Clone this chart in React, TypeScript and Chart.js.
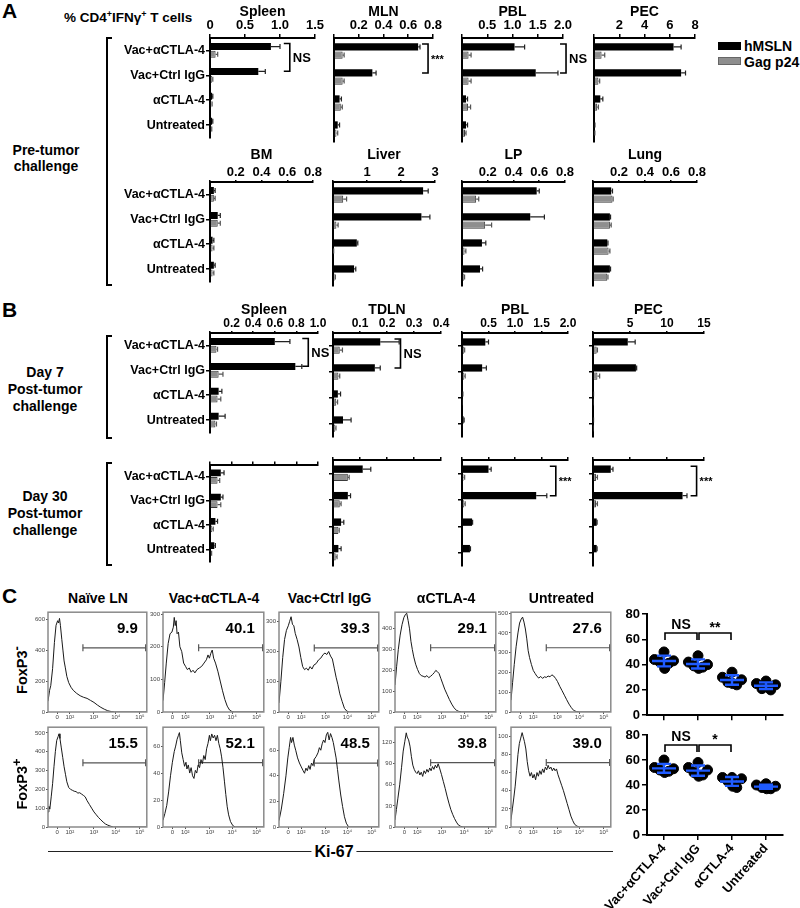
import React, { useEffect, useRef } from 'react';
import { Chart, registerables } from 'chart.js';

Chart.register(...registerables);

const FONT = "'Liberation Sans', Arial, Helvetica, sans-serif";
Chart.defaults.font.family = FONT;
Chart.defaults.color = '#000';

// ---------------- categories / series ----------------
const CATEGORIES = ['Vac+αCTLA-4', 'Vac+Ctrl IgG', 'αCTLA-4', 'Untreated'];
const SERIES = ['hMSLN', 'Gag p24'];

// ---------------- Panel A: pre-tumor challenge ----------------
const A_SPLEEN_HMSLN = [0.87, 0.69, 0.03, 0.03];
const A_SPLEEN_HMSLN_ERR = [0.13, 0.1, 0.01, 0.01];
const A_SPLEEN_GAG = [0.08, 0.03, 0.02, 0.02];
const A_SPLEEN_GAG_ERR = [0.03, 0.01, 0.01, 0.005];

const A_MLN_HMSLN = [0.68, 0.31, 0.045, 0.03];
const A_MLN_HMSLN_ERR = [0.015, 0.03, 0.015, 0.015];
const A_MLN_GAG = [0.07, 0.07, 0.055, 0.02];
const A_MLN_GAG_ERR = [0.012, 0.012, 0.012, 0.01];

const A_PBL_HMSLN = [1.04, 1.46, 0.08, 0.08];
const A_PBL_HMSLN_ERR = [0.2, 0.44, 0.03, 0.03];
const A_PBL_GAG = [0.13, 0.13, 0.12, 0.06];
const A_PBL_GAG_ERR = [0.05, 0.05, 0.05, 0.02];

const A_PEC_HMSLN = [6.3, 6.9, 0.5, 0.05];
const A_PEC_HMSLN_ERR = [0.6, 0.35, 0.2, 0.02];
const A_PEC_GAG = [0.6, 0.35, 0.25, 0.05];
const A_PEC_GAG_ERR = [0.25, 0.1, 0.1, 0.02];

const A_BM_HMSLN = [0.03, 0.06, 0.02, 0.03];
const A_BM_HMSLN_ERR = [0.01, 0.02, 0.01, 0.01];
const A_BM_GAG = [0.03, 0.06, 0.02, 0.02];
const A_BM_GAG_ERR = [0.01, 0.02, 0.01, 0.01];

const A_LIVER_HMSLN = [2.65, 2.6, 0.7, 0.62];
const A_LIVER_HMSLN_ERR = [0.15, 0.25, 0.03, 0.05];
const A_LIVER_GAG = [0.3, 0.1, 0.01, 0.05];
const A_LIVER_GAG_ERR = [0.1, 0.05, 0.01, 0.02];

const A_LP_HMSLN = [0.58, 0.53, 0.155, 0.14];
const A_LP_HMSLN_ERR = [0.02, 0.11, 0.03, 0.02];
const A_LP_GAG = [0.11, 0.18, 0.02, 0.015];
const A_LP_GAG_ERR = [0.02, 0.05, 0.01, 0.005];

const A_LUNG_HMSLN = [0.14, 0.13, 0.11, 0.13];
const A_LUNG_HMSLN_ERR = [0.01, 0.005, 0.005, 0.005];
const A_LUNG_GAG = [0.15, 0.13, 0.12, 0.11];
const A_LUNG_GAG_ERR = [0.005, 0.01, 0.01, 0.005];

// ---------------- Panel B: day 7 post-tumor ----------------
const B7_SPLEEN_HMSLN = [0.6, 0.79, 0.08, 0.08];
const B7_SPLEEN_HMSLN_ERR = [0.14, 0.06, 0.03, 0.06];
const B7_SPLEEN_GAG = [0.06, 0.08, 0.07, 0.05];
const B7_SPLEEN_GAG_ERR = [0.01, 0.04, 0.03, 0.01];

const B7_TDLN_HMSLN = [0.175, 0.155, 0.018, 0.037];
const B7_TDLN_HMSLN_ERR = [0.07, 0.02, 0.01, 0.03];
const B7_TDLN_GAG = [0.025, 0.02, 0.012, 0.008];
const B7_TDLN_GAG_ERR = [0.01, 0.005, 0.005, 0.003];

const B7_PBL_HMSLN = [0.44, 0.38, 0.01, 0.03];
const B7_PBL_HMSLN_ERR = [0.06, 0.08, 0.005, 0.01];
const B7_PBL_GAG = [0.04, 0.04, 0.005, 0.01];
const B7_PBL_GAG_ERR = [0.01, 0.02, 0, 0];

const B7_PEC_HMSLN = [4.7, 5.8, 0.05, 0.05];
const B7_PEC_HMSLN_ERR = [1.0, 0.1, 0.02, 0.02];
const B7_PEC_GAG = [0.5, 0.6, 0.02, 0.02];
const B7_PEC_GAG_ERR = [0.1, 0.3, 0, 0];

// ---------------- Panel B: day 30 post-tumor ----------------
const B30_SPLEEN_HMSLN = [0.1, 0.1, 0.05, 0.04];
const B30_SPLEEN_HMSLN_ERR = [0.03, 0.02, 0.02, 0.01];
const B30_SPLEEN_GAG = [0.07, 0.07, 0.02, 0.01];
const B30_SPLEEN_GAG_ERR = [0.02, 0.03, 0.01, 0.005];

const B30_TDLN_HMSLN = [0.11, 0.055, 0.03, 0.02];
const B30_TDLN_HMSLN_ERR = [0.03, 0.01, 0.01, 0.01];
const B30_TDLN_GAG = [0.055, 0.025, 0.02, 0.01];
const B30_TDLN_GAG_ERR = [0.005, 0.005, 0.003, 0.005];

const B30_PBL_HMSLN = [0.5, 1.4, 0.19, 0.15];
const B30_PBL_HMSLN_ERR = [0.05, 0.2, 0.01, 0.01];
const B30_PBL_GAG = [0.03, 0.04, 0.01, 0.01];
const B30_PBL_GAG_ERR = [0.02, 0.02, 0, 0];

const B30_PEC_HMSLN = [2.4, 12.1, 0.5, 0.5];
const B30_PEC_HMSLN_ERR = [0.3, 0.6, 0.05, 0.05];
const B30_PEC_GAG = [0.4, 0.4, 0.1, 0.1];
const B30_PEC_GAG_ERR = [0.2, 0.2, 0, 0];

// ---------------- tick values / labels ----------------
const TICKS_1_5 = [0, 0.5, 1, 1.5];
const TICKS_1_5_LBL = ['0', '0.5', '1.0', '1.5'];
const TICKS_0_8 = [0, 0.2, 0.4, 0.6, 0.8];
const TICKS_0_8_LBL = ['', '0.2', '0.4', '0.6', '0.8'];
const TICKS_2 = [0, 0.5, 1, 1.5, 2];
const TICKS_2_LBL = ['', '0.5', '1.0', '1.5', '2.0'];
const TICKS_8 = [0, 2, 4, 6, 8];
const TICKS_8_LBL = ['', '2', '4', '6', '8'];
const TICKS_3 = [0, 1, 2, 3];
const TICKS_3_LBL = ['', '1', '2', '3'];
const TICKS_1 = [0, 0.2, 0.4, 0.6, 0.8, 1.0];
const TICKS_1_LBL = ['', '0.2', '0.4', '0.6', '0.8', '1.0'];
const TICKS_0_4 = [0, 0.1, 0.2, 0.3, 0.4];
const TICKS_0_4_LBL = ['', '0.1', '0.2', '0.3', '0.4'];
const TICKS_15 = [0, 5, 10, 15];
const TICKS_15_LBL = ['', '5', '10', '15'];

// ---------------- Panel C: Ki-67 histograms (x in display decades, y = count) ----------------
const HIST_TITLES = ['Naïve LN', 'Vac+αCTLA-4', 'Vac+Ctrl IgG', 'αCTLA-4', 'Untreated'];
const HIST_X_TICKS = [0, 0.55, 1.6, 2.55, 3.6];
const HIST_X_LABELS = ['0', '10²', '10³', '10⁴', '10⁵'];
const HIST_PCT_NEG = ['9.9', '40.1', '39.3', '29.1', '27.6'];
const HIST_PCT_POS = ['15.5', '52.1', '48.5', '39.8', '39.0'];
const HIST_YMAX_NEG = [645, 306, 330, 480, 505];
const HIST_YSTEP_NEG = [200, 100, 100, 100, 100];
const HIST_YMAX_POS = [530, 74, 78, 142, 110];
const HIST_YSTEP_POS = [100, 20, 20, 30, 20];
const HIST_GATE_NEG = [415, 197, 212, 309, 325];
const HIST_GATE_POS = [341, 47.7, 50, 91.5, 71];
const GATE_FROM = 1.12;
const GATE_TO = 3.85;

const HIST_NEG_NAIVE = [[-0.4, 70], [-0.33, 140], [-0.28, 170], [-0.2, 280], [-0.12, 450], [-0.05, 560], [0.02, 590], [0.06, 575], [0.1, 605], [0.14, 560], [0.2, 470], [0.25, 400], [0.3, 330], [0.35, 290], [0.42, 230], [0.5, 190], [0.6, 160], [0.7, 140], [0.85, 120], [1.0, 105], [1.15, 95], [1.3, 88], [1.45, 75], [1.6, 62], [1.75, 45], [1.9, 30], [2.05, 18], [2.2, 8], [2.35, 3], [2.5, 0], [3.9, 0]];
const HIST_NEG_VAC_ACTLA4 = [[-0.4, 35], [-0.33, 90], [-0.26, 150], [-0.18, 210], [-0.1, 240], [-0.02, 245], [0.04, 260], [0.08, 290], [0.12, 265], [0.16, 280], [0.2, 240], [0.26, 245], [0.32, 200], [0.4, 185], [0.48, 150], [0.56, 140], [0.64, 130], [0.72, 135], [0.8, 122], [0.88, 128], [0.96, 120], [1.05, 130], [1.15, 135], [1.25, 140], [1.35, 150], [1.45, 160], [1.52, 175], [1.58, 165], [1.64, 180], [1.7, 190], [1.76, 165], [1.84, 150], [1.94, 125], [2.04, 95], [2.14, 65], [2.24, 38], [2.34, 18], [2.44, 6], [2.55, 1], [2.65, 0], [3.9, 0]];
const HIST_NEG_VAC_IGG = [[-0.4, 30], [-0.32, 100], [-0.24, 180], [-0.16, 240], [-0.08, 270], [0.0, 285], [0.06, 300], [0.12, 315], [0.18, 290], [0.24, 285], [0.3, 260], [0.38, 240], [0.46, 215], [0.54, 180], [0.62, 150], [0.7, 140], [0.78, 145], [0.86, 138], [0.94, 150], [1.02, 142], [1.1, 155], [1.2, 160], [1.3, 172], [1.4, 178], [1.5, 190], [1.58, 195], [1.66, 190], [1.74, 200], [1.82, 185], [1.9, 175], [1.98, 145], [2.06, 115], [2.14, 90], [2.22, 60], [2.32, 35], [2.42, 12], [2.52, 3], [2.62, 0], [3.9, 0]];
const HIST_NEG_ACTLA4 = [[-0.4, 130], [-0.33, 220], [-0.26, 300], [-0.18, 370], [-0.1, 420], [-0.02, 455], [0.05, 470], [0.1, 475], [0.16, 440], [0.22, 400], [0.28, 340], [0.34, 300], [0.4, 265], [0.48, 230], [0.56, 205], [0.64, 185], [0.72, 175], [0.8, 172], [0.88, 168], [0.96, 175], [1.04, 165], [1.12, 172], [1.2, 180], [1.28, 190], [1.34, 200], [1.4, 195], [1.48, 185], [1.56, 160], [1.64, 135], [1.72, 110], [1.82, 85], [1.92, 60], [2.02, 38], [2.12, 20], [2.22, 8], [2.32, 3], [2.45, 0], [3.9, 0]];
const HIST_NEG_UNTREATED = [[-0.4, 60], [-0.33, 150], [-0.26, 240], [-0.18, 330], [-0.1, 400], [-0.03, 450], [0.04, 470], [0.1, 480], [0.16, 455], [0.22, 420], [0.28, 370], [0.34, 310], [0.4, 275], [0.48, 240], [0.56, 210], [0.64, 195], [0.72, 180], [0.8, 172], [0.88, 180], [0.96, 170], [1.04, 178], [1.12, 175], [1.2, 182], [1.28, 178], [1.36, 188], [1.44, 182], [1.52, 170], [1.6, 155], [1.7, 130], [1.8, 108], [1.9, 85], [2.0, 62], [2.1, 40], [2.2, 22], [2.3, 8], [2.42, 2], [2.55, 0], [3.9, 0]];

const HIST_POS_NAIVE = [[-0.4, 80], [-0.36, 110], [-0.32, 95], [-0.26, 160], [-0.2, 230], [-0.14, 320], [-0.08, 400], [-0.02, 460], [0.04, 480], [0.08, 495], [0.12, 470], [0.18, 420], [0.24, 370], [0.3, 320], [0.36, 280], [0.42, 240], [0.5, 210], [0.58, 200], [0.66, 195], [0.74, 190], [0.82, 188], [0.9, 180], [0.98, 182], [1.06, 175], [1.14, 168], [1.22, 160], [1.3, 140], [1.4, 120], [1.5, 100], [1.6, 80], [1.7, 65], [1.8, 50], [1.9, 38], [2.0, 26], [2.1, 16], [2.2, 10], [2.3, 5], [2.45, 0], [3.9, 0]];
const HIST_POS_VAC_ACTLA4 = [[-0.4, 5], [-0.32, 10], [-0.24, 16], [-0.16, 26], [-0.08, 38], [0.0, 48], [0.08, 56], [0.14, 60], [0.2, 65], [0.26, 68], [0.3, 70], [0.34, 64], [0.4, 55], [0.46, 50], [0.52, 45], [0.58, 48], [0.62, 43], [0.68, 46], [0.74, 40], [0.8, 44], [0.86, 38], [0.92, 36], [0.98, 42], [1.04, 40], [1.1, 46], [1.16, 44], [1.22, 50], [1.28, 47], [1.34, 53], [1.4, 50], [1.46, 58], [1.52, 62], [1.58, 68], [1.62, 64], [1.68, 69], [1.74, 66], [1.8, 68], [1.86, 64], [1.92, 68], [1.98, 62], [2.04, 58], [2.1, 52], [2.16, 44], [2.22, 34], [2.28, 24], [2.34, 15], [2.4, 9], [2.48, 4], [2.58, 1], [2.68, 0], [3.9, 0]];
const HIST_POS_VAC_IGG = [[-0.4, 5], [-0.3, 14], [-0.2, 26], [-0.1, 40], [-0.02, 54], [0.04, 62], [0.1, 70], [0.14, 66], [0.2, 70], [0.26, 64], [0.32, 60], [0.4, 54], [0.48, 50], [0.56, 47], [0.64, 44], [0.7, 42], [0.76, 46], [0.82, 44], [0.88, 48], [0.94, 45], [1.0, 50], [1.06, 48], [1.12, 53], [1.2, 55], [1.28, 58], [1.34, 62], [1.4, 60], [1.46, 65], [1.52, 68], [1.58, 66], [1.64, 72], [1.7, 74], [1.76, 68], [1.82, 73], [1.88, 70], [1.94, 66], [2.0, 60], [2.06, 54], [2.12, 45], [2.18, 36], [2.26, 25], [2.34, 16], [2.42, 8], [2.5, 3], [2.6, 0], [3.9, 0]];
const HIST_POS_ACTLA4 = [[-0.4, 10], [-0.34, 25], [-0.28, 40], [-0.2, 60], [-0.12, 85], [-0.05, 108], [0.02, 122], [0.08, 134], [0.12, 128], [0.18, 124], [0.24, 115], [0.3, 100], [0.36, 88], [0.42, 82], [0.48, 78], [0.54, 76], [0.6, 80], [0.66, 74], [0.72, 78], [0.78, 72], [0.84, 80], [0.9, 76], [0.96, 82], [1.02, 78], [1.08, 84], [1.14, 80], [1.2, 86], [1.26, 82], [1.32, 88], [1.38, 84], [1.44, 90], [1.5, 84], [1.58, 75], [1.66, 65], [1.74, 55], [1.82, 44], [1.9, 34], [1.98, 25], [2.06, 18], [2.14, 12], [2.22, 7], [2.3, 3], [2.4, 1], [2.5, 0], [3.9, 0]];
const HIST_POS_UNTREATED = [[-0.4, 8], [-0.34, 20], [-0.28, 32], [-0.22, 45], [-0.16, 62], [-0.1, 80], [-0.04, 92], [0.02, 98], [0.08, 104], [0.12, 100], [0.18, 94], [0.24, 86], [0.3, 72], [0.36, 62], [0.42, 56], [0.48, 60], [0.54, 54], [0.6, 58], [0.66, 52], [0.72, 60], [0.78, 56], [0.84, 62], [0.9, 58], [0.96, 64], [1.02, 60], [1.08, 66], [1.14, 63], [1.2, 68], [1.26, 64], [1.32, 66], [1.38, 62], [1.44, 65], [1.5, 62], [1.56, 64], [1.62, 58], [1.7, 52], [1.78, 46], [1.86, 40], [1.94, 33], [2.02, 26], [2.1, 19], [2.18, 12], [2.26, 7], [2.34, 3], [2.44, 1], [2.54, 0], [3.9, 0]];

// ---------------- Panel C: % Ki-67+ scatter ----------------
const SC_NEG_VAC_ACTLA4 = [50, 44, 43, 42, 41, 37];
const SC_NEG_VAC_IGG = [47, 42, 40, 39, 38, 37];
const SC_NEG_ACTLA4 = [34, 30, 28, 26, 24, 25];
const SC_NEG_UNTREATED = [27, 25, 24, 21, 20, 23];
const SC_POS_VAC_ACTLA4 = [60, 54, 53, 52, 51, 50];
const SC_POS_VAC_IGG = [58, 54, 52, 50, 48, 47];
const SC_POS_ACTLA4 = [46, 46, 45, 43, 38, 39];
const SC_POS_UNTREATED = [41, 40, 39, 38, 37, 37];
const SC_Y_TICKS = [0, 20, 40, 60, 80];
const JITTER = [0, -0.28, 0.28, -0.12, 0.14, 0.02];

// ---------------- layout ----------------
const ROWS: any = {
  A1: { axisY: 38, xH: 34, catH: 104, tickLen: 4, tickPad: 1, tickSize: 13, labels: true },
  A2: { axisY: 182, xH: 35, catH: 104, tickLen: 2, tickPad: 0, tickSize: 13, labels: true },
  B7: { axisY: 333, xH: 31, catH: 104, tickLen: 2, tickPad: 0, tickSize: 12, labels: true },
  B30: { axisY: 460, xH: 4, catH: 106, tickLen: 3, tickPad: 0, tickSize: 12, labels: false },
};

const BAR_SPECS: any[] = [
  { row: 'A1', col: 0, axisX: 210, axisLen: 105, title: 'Spleen', hm: A_SPLEEN_HMSLN, hmErr: A_SPLEEN_HMSLN_ERR, gag: A_SPLEEN_GAG, gagErr: A_SPLEEN_GAG_ERR, max: 1.5, ticks: TICKS_1_5, tickLabels: TICKS_1_5_LBL, sig: [{ a: 0, b: 1, at: 1.14, text: 'NS' }] },
  { row: 'A1', col: 1, axisX: 334, axisLen: 99, title: 'MLN', hm: A_MLN_HMSLN, hmErr: A_MLN_HMSLN_ERR, gag: A_MLN_GAG, gagErr: A_MLN_GAG_ERR, max: 0.8, ticks: TICKS_0_8, tickLabels: TICKS_0_8_LBL, sig: [{ a: 0, b: 1, at: 0.76, text: '***' }] },
  { row: 'A1', col: 2, axisX: 462, axisLen: 101, title: 'PBL', hm: A_PBL_HMSLN, hmErr: A_PBL_HMSLN_ERR, gag: A_PBL_GAG, gagErr: A_PBL_GAG_ERR, max: 2, ticks: TICKS_2, tickLabels: TICKS_2_LBL, sig: [{ a: 0, b: 1, at: 2.06, text: 'NS' }] },
  { row: 'A1', col: 3, axisX: 594, axisLen: 101, title: 'PEC', hm: A_PEC_HMSLN, hmErr: A_PEC_HMSLN_ERR, gag: A_PEC_GAG, gagErr: A_PEC_GAG_ERR, max: 8, ticks: TICKS_8, tickLabels: TICKS_8_LBL },
  { row: 'A2', col: 0, axisX: 210, axisLen: 103, title: 'BM', hm: A_BM_HMSLN, hmErr: A_BM_HMSLN_ERR, gag: A_BM_GAG, gagErr: A_BM_GAG_ERR, max: 0.8, ticks: TICKS_0_8, tickLabels: TICKS_0_8_LBL },
  { row: 'A2', col: 1, axisX: 333, axisLen: 102, title: 'Liver', hm: A_LIVER_HMSLN, hmErr: A_LIVER_HMSLN_ERR, gag: A_LIVER_GAG, gagErr: A_LIVER_GAG_ERR, max: 3, ticks: TICKS_3, tickLabels: TICKS_3_LBL },
  { row: 'A2', col: 2, axisX: 462, axisLen: 103, title: 'LP', hm: A_LP_HMSLN, hmErr: A_LP_HMSLN_ERR, gag: A_LP_GAG, gagErr: A_LP_GAG_ERR, max: 0.8, ticks: TICKS_0_8, tickLabels: TICKS_0_8_LBL },
  { row: 'A2', col: 3, axisX: 593, axisLen: 104, title: 'Lung', hm: A_LUNG_HMSLN, hmErr: A_LUNG_HMSLN_ERR, gag: A_LUNG_GAG, gagErr: A_LUNG_GAG_ERR, max: 0.8, ticks: TICKS_0_8, tickLabels: TICKS_0_8_LBL },
  { row: 'B7', col: 0, axisX: 210, axisLen: 108, title: 'Spleen', hm: B7_SPLEEN_HMSLN, hmErr: B7_SPLEEN_HMSLN_ERR, gag: B7_SPLEEN_GAG, gagErr: B7_SPLEEN_GAG_ERR, max: 1, ticks: TICKS_1, tickLabels: TICKS_1_LBL, sig: [{ a: 0, b: 1, at: 0.91, text: 'NS' }] },
  { row: 'B7', col: 1, axisX: 333, axisLen: 108, title: 'TDLN', hm: B7_TDLN_HMSLN, hmErr: B7_TDLN_HMSLN_ERR, gag: B7_TDLN_GAG, gagErr: B7_TDLN_GAG_ERR, max: 0.4, ticks: TICKS_0_4, tickLabels: TICKS_0_4_LBL, sig: [{ a: 0, b: 1, at: 0.25, text: 'NS' }] },
  { row: 'B7', col: 2, axisX: 462, axisLen: 106, title: 'PBL', hm: B7_PBL_HMSLN, hmErr: B7_PBL_HMSLN_ERR, gag: B7_PBL_GAG, gagErr: B7_PBL_GAG_ERR, max: 2, ticks: TICKS_2, tickLabels: TICKS_2_LBL },
  { row: 'B7', col: 3, axisX: 593, axisLen: 111, title: 'PEC', hm: B7_PEC_HMSLN, hmErr: B7_PEC_HMSLN_ERR, gag: B7_PEC_GAG, gagErr: B7_PEC_GAG_ERR, max: 15, ticks: TICKS_15, tickLabels: TICKS_15_LBL },
  { row: 'B30', col: 0, axisX: 210, axisLen: 108, hm: B30_SPLEEN_HMSLN, hmErr: B30_SPLEEN_HMSLN_ERR, gag: B30_SPLEEN_GAG, gagErr: B30_SPLEEN_GAG_ERR, max: 1, ticks: TICKS_1, tickLabels: TICKS_1_LBL },
  { row: 'B30', col: 1, axisX: 333, axisLen: 108, hm: B30_TDLN_HMSLN, hmErr: B30_TDLN_HMSLN_ERR, gag: B30_TDLN_GAG, gagErr: B30_TDLN_GAG_ERR, max: 0.4, ticks: TICKS_0_4, tickLabels: TICKS_0_4_LBL },
  { row: 'B30', col: 2, axisX: 462, axisLen: 106, hm: B30_PBL_HMSLN, hmErr: B30_PBL_HMSLN_ERR, gag: B30_PBL_GAG, gagErr: B30_PBL_GAG_ERR, max: 2, ticks: TICKS_2, tickLabels: TICKS_2_LBL, sig: [{ a: 0, b: 1, at: 1.77, text: '***' }] },
  { row: 'B30', col: 3, axisX: 593, axisLen: 111, hm: B30_PEC_HMSLN, hmErr: B30_PEC_HMSLN_ERR, gag: B30_PEC_GAG, gagErr: B30_PEC_GAG_ERR, max: 15, ticks: TICKS_15, tickLabels: TICKS_15_LBL, sig: [{ a: 0, b: 1, at: 14.0, text: '***' }] },
];

const HIST_COLS = [[48, 148], [163, 265], [279, 380], [395, 497], [511, 612]];
const HIST_ROWS = [[611, 712], [726, 827]];
const HIST_NEG = [HIST_NEG_NAIVE, HIST_NEG_VAC_ACTLA4, HIST_NEG_VAC_IGG, HIST_NEG_ACTLA4, HIST_NEG_UNTREATED];
const HIST_POS = [HIST_POS_NAIVE, HIST_POS_VAC_ACTLA4, HIST_POS_VAC_IGG, HIST_POS_ACTLA4, HIST_POS_UNTREATED];

// ---------------- generic canvas ----------------
function ChartBox({ left, top, width, height, make }: any) {
  const ref = useRef<HTMLCanvasElement>(null);
  useEffect(() => {
    const chart = new Chart(ref.current as HTMLCanvasElement, make());
    return () => chart.destroy();
  }, []);
  return (
    <div style={{ position: 'absolute', left, top, width, height }}>
      <canvas ref={ref} width={width} height={height} style={{ width, height, display: 'block' }} />
    </div>
  );
}

const errorBarsPlugin = {
  id: 'errorBars',
  afterDatasetsDraw(chart: any) {
    const ctx = chart.ctx;
    const xs = chart.scales.x;
    chart.data.datasets.forEach((ds: any, di: number) => {
      if (!ds.errors) return;
      const meta = chart.getDatasetMeta(di);
      ctx.save();
      ctx.strokeStyle = ds.errorColor || '#000';
      ctx.lineWidth = 1.2;
      meta.data.forEach((bar: any, i: number) => {
        const e = ds.errors[i];
        if (!e) return;
        const v = ds.data[i];
        const x0 = xs.getPixelForValue(v);
        const x1 = xs.getPixelForValue(v + e);
        const y = bar.y;
        ctx.beginPath();
        ctx.moveTo(x0, y);
        ctx.lineTo(x1, y);
        ctx.moveTo(x1, y - 2.5);
        ctx.lineTo(x1, y + 2.5);
        ctx.stroke();
      });
      ctx.restore();
    });
  },
};

function barSigPlugin(items: any[]) {
  return {
    id: 'barSig',
    afterDatasetsDraw(chart: any) {
      const ctx = chart.ctx;
      const xs = chart.scales.x;
      const ys = chart.scales.y;
      items.forEach((it) => {
        const x = xs.getPixelForValue(it.at);
        const y1 = ys.getPixelForValue(it.a) - 7;
        const y2 = ys.getPixelForValue(it.b) - 4;
        ctx.save();
        ctx.strokeStyle = '#000';
        ctx.lineWidth = 1.6;
        ctx.beginPath();
        ctx.moveTo(x - 6, y1);
        ctx.lineTo(x, y1);
        ctx.lineTo(x, y2);
        ctx.lineTo(x - 6, y2);
        ctx.stroke();
        ctx.fillStyle = '#000';
        ctx.font = `bold ${it.text === 'NS' ? 13 : 11}px ${FONT}`;
        ctx.textBaseline = 'middle';
        ctx.textAlign = 'left';
        ctx.fillText(it.text, x + 3, (y1 + y2) / 2 + 1);
        ctx.restore();
      });
    },
  };
}

function BarPanel({ spec }: any) {
  const row = ROWS[spec.row];
  const yW = spec.col === 0 ? 100 : 6;
  const padR = 48;
  const padB = 4;
  const left = spec.axisX - yW;
  const top = row.axisY - row.xH;
  const width = yW + spec.axisLen + padR;
  const height = row.xH + row.catH + padB;
  const showYTicks = spec.col === 0 || spec.row === 'B7' || spec.row === 'B30';
  const make = () => ({
    type: 'bar',
    data: {
      labels: CATEGORIES,
      datasets: [
        { label: SERIES[0], data: spec.hm, errors: spec.hmErr, errorColor: '#222', backgroundColor: '#000', borderColor: '#000', borderWidth: 0, categoryPercentage: 0.62, barPercentage: 0.9 },
        { label: SERIES[1], data: spec.gag, errors: spec.gagErr, errorColor: '#555', backgroundColor: '#8e8e8e', borderColor: '#3a3a3a', borderWidth: 1, categoryPercentage: 0.62, barPercentage: 0.9 },
      ],
    },
    options: {
      indexAxis: 'y',
      responsive: false,
      maintainAspectRatio: false,
      animation: false,
      events: [],
      layout: { padding: { left: 0, top: 0, right: padR, bottom: padB } },
      plugins: { legend: { display: false }, tooltip: { enabled: false } },
      scales: {
        x: {
          type: 'linear',
          position: 'top',
          min: 0,
          max: spec.max,
          afterBuildTicks: (s: any) => { s.ticks = spec.ticks.map((v: number) => ({ value: v })); },
          ticks: {
            display: row.labels,
            autoSkip: false,
            maxRotation: 0,
            minRotation: 0,
            padding: row.tickPad,
            color: '#000',
            font: { size: row.tickSize, weight: 'bold', family: FONT },
            callback: (_v: any, i: number) => spec.tickLabels[i],
          },
          grid: { display: true, drawOnChartArea: false, drawTicks: true, tickLength: row.tickLen, color: '#000', lineWidth: 1.5 },
          border: { display: true, color: '#000', width: 2 },
          title: { display: !!spec.title, text: spec.title || '', color: '#000', padding: { top: 0, bottom: 0 }, font: { size: 14, weight: 'bold', family: FONT } },
          afterFit: (s: any) => { s.height = row.xH; },
        },
        y: {
          type: 'category',
          position: 'left',
          offset: true,
          ticks: { display: spec.col === 0, padding: 1, color: '#000', font: { size: 12.5, weight: 'bold', family: FONT } },
          grid: { display: showYTicks, offset: false, drawOnChartArea: false, drawTicks: true, tickLength: 4, color: '#000', lineWidth: 1.5 },
          border: { display: true, color: '#000', width: 2 },
          afterFit: (s: any) => { s.width = yW; },
        },
      },
    },
    plugins: [errorBarsPlugin, barSigPlugin(spec.sig || [])],
  });
  return <ChartBox left={left} top={top} width={width} height={height} make={make} />;
}

function histPlugin(pct: string) {
  return {
    id: 'histBox',
    afterDatasetsDraw(chart: any) {
      const { ctx, chartArea: a } = chart;
      ctx.save();
      ctx.strokeStyle = '#8a8a8a';
      ctx.lineWidth = 1.5;
      ctx.strokeRect(a.left, a.top, a.right - a.left, a.bottom - a.top);
      ctx.fillStyle = '#000';
      ctx.font = `bold 15px ${FONT}`;
      ctx.textAlign = 'right';
      ctx.textBaseline = 'middle';
      ctx.fillText(pct, a.right - 9, a.top + 17);
      ctx.restore();
    },
  };
}

function HistPanel({ curve, col, row, ymax, ystep, gate, pct }: any) {
  const [bx0, bx1] = HIST_COLS[col];
  const [by0, by1] = HIST_ROWS[row];
  const yW = 16;
  const xH = 11;
  const padT = 4;
  const padR = 4;
  const width = yW + (bx1 - bx0) + padR;
  const height = padT + (by1 - by0) + xH;
  const make = () => ({
    type: 'line',
    data: {
      datasets: [
        { data: curve.map((p: number[]) => ({ x: p[0], y: p[1] })), borderColor: '#1a1a1a', borderWidth: 1, pointRadius: 0, tension: 0, fill: false },
        { data: [{ x: GATE_FROM, y: gate }, { x: GATE_TO, y: gate }], borderColor: '#555', borderWidth: 1.2, pointStyle: 'line', pointRotation: 90, pointRadius: 3.5, pointBorderColor: '#555', pointBorderWidth: 1.2, fill: false },
      ],
    },
    options: {
      responsive: false,
      maintainAspectRatio: false,
      animation: false,
      events: [],
      layout: { padding: { left: 0, top: padT, right: padR, bottom: 0 } },
      plugins: { legend: { display: false }, tooltip: { enabled: false } },
      scales: {
        x: {
          type: 'linear',
          min: -0.4,
          max: 3.9,
          afterBuildTicks: (s: any) => { s.ticks = HIST_X_TICKS.map((v) => ({ value: v })); },
          ticks: { autoSkip: false, maxRotation: 0, padding: 0, color: '#444', font: { size: 6, family: FONT }, callback: (_v: any, i: number) => HIST_X_LABELS[i] },
          grid: { display: true, drawOnChartArea: false, tickLength: 2, color: '#555' },
          border: { display: false },
          afterFit: (s: any) => { s.height = xH; },
        },
        y: {
          type: 'linear',
          min: 0,
          max: ymax,
          afterBuildTicks: (s: any) => {
            const t: any[] = [];
            for (let v = 0; v <= ymax; v += ystep) t.push({ value: v });
            s.ticks = t;
          },
          ticks: { autoSkip: false, padding: 1, color: '#444', font: { size: 6, family: FONT } },
          grid: { display: true, drawOnChartArea: false, tickLength: 2, color: '#555' },
          border: { display: false },
          afterFit: (s: any) => { s.width = yW; },
        },
      },
    },
    plugins: [histPlugin(pct)],
  });
  return <ChartBox left={bx0 - yW} top={by0 - padT} width={width} height={height} make={make} />;
}

const meanSdPlugin = {
  id: 'meanSd',
  afterDatasetsDraw(chart: any) {
    const ctx = chart.ctx;
    const xs = chart.scales.x;
    const ys = chart.scales.y;
    chart.data.datasets.forEach((ds: any, g: number) => {
      const vals = ds.data.map((p: any) => p.y);
      const n = vals.length;
      const mean = vals.reduce((s: number, v: number) => s + v, 0) / n;
      const sd = Math.sqrt(vals.reduce((s: number, v: number) => s + (v - mean) ** 2, 0) / (n - 1));
      const px = xs.getPixelForValue(g);
      const ym = ys.getPixelForValue(mean);
      const yh = ys.getPixelForValue(mean + sd);
      const yl = ys.getPixelForValue(mean - sd);
      ctx.save();
      ctx.strokeStyle = '#1f5bff';
      ctx.lineWidth = 2.4;
      ctx.beginPath();
      ctx.moveTo(px - 12, ym); ctx.lineTo(px + 12, ym);
      ctx.moveTo(px, yh); ctx.lineTo(px, yl);
      ctx.moveTo(px - 7, yh); ctx.lineTo(px + 7, yh);
      ctx.moveTo(px - 7, yl); ctx.lineTo(px + 7, yl);
      ctx.stroke();
      ctx.restore();
    });
  },
};

function scatterSigPlugin(items: any[], level: number, drop: number, textLevel: number) {
  return {
    id: 'scSig',
    afterDatasetsDraw(chart: any) {
      const ctx = chart.ctx;
      const xs = chart.scales.x;
      const ys = chart.scales.y;
      const y = ys.getPixelForValue(level);
      const yd = ys.getPixelForValue(level - drop);
      const yt = ys.getPixelForValue(textLevel);
      items.forEach((it) => {
        const xa = xs.getPixelForValue(it.a) + 1;
        const xb = xs.getPixelForValue(it.b) - 1;
        ctx.save();
        ctx.strokeStyle = '#000';
        ctx.lineWidth = 1.6;
        ctx.beginPath();
        ctx.moveTo(xa, yd); ctx.lineTo(xa, y); ctx.lineTo(xb, y); ctx.lineTo(xb, yd);
        ctx.stroke();
        ctx.fillStyle = '#000';
        ctx.font = `bold 14px ${FONT}`;
        ctx.textAlign = 'center';
        ctx.textBaseline = 'middle';
        ctx.fillText(it.text, (xa + xb) / 2, yt + (it.text === 'NS' ? 0 : 3));
        ctx.restore();
      });
    },
  };
}

function ScatterPanel({ groups, top, plotH, showLabels, sig, level, drop, textLevel }: any) {
  const padL = 10, padT = 10, padR = 12;
  const yW = 40;
  const xH = showLabels ? 73 : 8;
  const plotW = 136;
  const width = padL + yW + plotW + padR;
  const height = padT + plotH + xH;
  const make = () => ({
    type: 'scatter',
    data: {
      datasets: groups.map((vals: number[], g: number) => ({
        data: vals.map((v, j) => ({ x: g + JITTER[j], y: v })),
        backgroundColor: '#000',
        borderColor: '#000',
        pointRadius: 5,
        pointHoverRadius: 5,
      })),
    },
    options: {
      responsive: false,
      maintainAspectRatio: false,
      animation: false,
      events: [],
      layout: { padding: { left: padL, top: padT, right: padR, bottom: 0 } },
      plugins: { legend: { display: false }, tooltip: { enabled: false } },
      scales: {
        x: {
          type: 'linear',
          min: -0.5,
          max: 3.5,
          afterBuildTicks: (s: any) => { s.ticks = [0, 1, 2, 3].map((v) => ({ value: v })); },
          ticks: { display: showLabels, autoSkip: false, minRotation: 48, maxRotation: 48, padding: 1, color: '#000', font: { size: 13, weight: 'bold', family: FONT }, callback: (_v: any, i: number) => CATEGORIES[i] },
          grid: { display: true, drawOnChartArea: false, tickLength: 5, color: '#000', lineWidth: 1.5 },
          border: { display: true, color: '#000', width: 2 },
          afterFit: (s: any) => { s.height = xH; },
        },
        y: {
          type: 'linear',
          min: 0,
          max: 80,
          afterBuildTicks: (s: any) => { s.ticks = SC_Y_TICKS.map((v) => ({ value: v })); },
          ticks: { padding: 2, color: '#000', font: { size: 13, weight: 'bold', family: FONT } },
          grid: { display: true, drawOnChartArea: false, tickLength: 5, color: '#000', lineWidth: 1.5 },
          border: { display: true, color: '#000', width: 2 },
          afterFit: (s: any) => { s.width = yW; },
        },
      },
    },
    plugins: [meanSdPlugin, scatterSigPlugin(sig, level, drop, textLevel)],
  });
  return <ChartBox left={647 - yW - padL} top={top - padT} width={width} height={height} make={make} />;
}

// ---------------- text helpers ----------------
function T({ x, y, size = 13, align = 'left', children, style }: any) {
  const tx = align === 'center' ? '-50%' : align === 'right' ? '-100%' : '0';
  return (
    <div style={{ position: 'absolute', left: x, top: y, transform: `translate(${tx}, -50%)`, fontFamily: FONT, fontWeight: 700, fontSize: size, lineHeight: 1.15, whiteSpace: 'nowrap', color: '#000', ...style }}>
      {children}
    </div>
  );
}

function GroupBracket({ x, top, height }: any) {
  return <div style={{ position: 'absolute', left: x, top, width: 6, height, borderLeft: '2px solid #000', borderTop: '2px solid #000', borderBottom: '2px solid #000', boxSizing: 'border-box' }} />;
}

const SUP = { fontSize: 9, verticalAlign: 'super', lineHeight: 0 };

export default function App() {
  return (
    <div style={{ position: 'fixed', left: 0, top: 0, width: 800, height: 908, overflow: 'hidden', background: '#fff' }}>
      {/* Panel A */}
      <T x={2} y={11} size={21}>A</T>
      <T x={64} y={18} size={13.5}>% CD4<span style={SUP}>+</span>IFNγ<span style={SUP}>+</span> T cells</T>
      <GroupBracket x={106} top={37} height={249} />
      <T x={46} y={150} size={14} align="center">Pre-tumor</T>
      <T x={46} y={166} size={14} align="center">challenge</T>
      <div style={{ position: 'absolute', left: 718, top: 42, width: 23, height: 8, background: '#000' }} />
      <T x={744} y={46} size={14}>{SERIES[0]}</T>
      <div style={{ position: 'absolute', left: 718, top: 57, width: 23, height: 8, background: '#8e8e8e', boxSizing: 'border-box', border: '1px solid #666' }} />
      <T x={744} y={62} size={14}>{SERIES[1]}</T>

      {/* Panel B */}
      <T x={2} y={310} size={21}>B</T>
      <GroupBracket x={106} top={335} height={104} />
      <T x={45} y={372} size={14} align="center">Day 7</T>
      <T x={45} y={389} size={14} align="center">Post-tumor</T>
      <T x={45} y={406} size={14} align="center">challenge</T>
      <GroupBracket x={106} top={462} height={104} />
      <T x={45} y={496} size={14} align="center">Day 30</T>
      <T x={45} y={513} size={14} align="center">Post-tumor</T>
      <T x={45} y={530} size={14} align="center">challenge</T>

      {BAR_SPECS.map((s, i) => <BarPanel key={i} spec={s} />)}

      {/* Panel C */}
      <T x={2} y={596} size={21}>C</T>
      {HIST_TITLES.map((t, i) => (
        <T key={t} x={(HIST_COLS[i][0] + HIST_COLS[i][1]) / 2} y={598} size={14} align="center">{t}</T>
      ))}
      {HIST_NEG.map((c, i) => (
        <HistPanel key={'n' + i} curve={c} col={i} row={0} ymax={HIST_YMAX_NEG[i]} ystep={HIST_YSTEP_NEG[i]} gate={HIST_GATE_NEG[i]} pct={HIST_PCT_NEG[i]} />
      ))}
      {HIST_POS.map((c, i) => (
        <HistPanel key={'p' + i} curve={c} col={i} row={1} ymax={HIST_YMAX_POS[i]} ystep={HIST_YSTEP_POS[i]} gate={HIST_GATE_POS[i]} pct={HIST_PCT_POS[i]} />
      ))}
      <div style={{ position: 'absolute', left: 22, top: 670, transform: 'translate(-50%, -50%) rotate(-90deg)', fontFamily: FONT, fontWeight: 700, fontSize: 14.5, whiteSpace: 'nowrap' }}>
        FoxP3<span style={{ fontSize: 13, verticalAlign: 'super', lineHeight: 0 }}>-</span>
      </div>
      <div style={{ position: 'absolute', left: 22, top: 784, transform: 'translate(-50%, -50%) rotate(-90deg)', fontFamily: FONT, fontWeight: 700, fontSize: 14.5, whiteSpace: 'nowrap' }}>
        FoxP3<span style={{ fontSize: 13, verticalAlign: 'super', lineHeight: 0 }}>+</span>
      </div>
      <div style={{ position: 'absolute', left: 48, top: 851, width: 565, height: 0, borderTop: '1.5px solid #222' }} />
      <T x={334} y={852} size={16} align="center" style={{ background: '#fff', padding: '0 3px' }}>Ki-67</T>

      <ScatterPanel
        groups={[SC_NEG_VAC_ACTLA4, SC_NEG_VAC_IGG, SC_NEG_ACTLA4, SC_NEG_UNTREATED]}
        top={614} plotH={103} showLabels={false}
        sig={[{ a: 0, b: 1, text: 'NS' }, { a: 1, b: 2, text: '**' }]}
        level={65} drop={5.5} textLevel={71}
      />
      <ScatterPanel
        groups={[SC_POS_VAC_ACTLA4, SC_POS_VAC_IGG, SC_POS_ACTLA4, SC_POS_UNTREATED]}
        top={735} plotH={100} showLabels={true}
        sig={[{ a: 0, b: 1, text: 'NS' }, { a: 1, b: 2, text: '*' }]}
        level={72} drop={5.5} textLevel={78.5}
      />
    </div>
  );
}
